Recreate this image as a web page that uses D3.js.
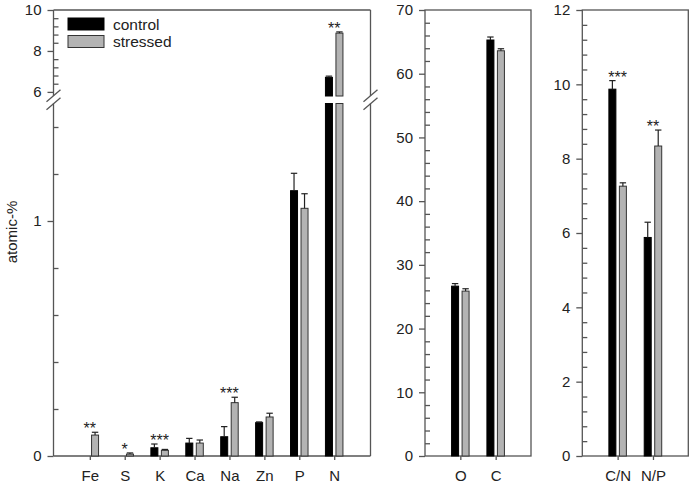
<!DOCTYPE html>
<html>
<head>
<meta charset="utf-8">
<script src="https://cdn.jsdelivr.net/npm/d3@7"></script>
<style>
  html, body { margin: 0; padding: 0; background: #fff; }
  svg { display: block; }
  text { font-family: "Liberation Sans", Arial, sans-serif; fill: #222; }
</style>
</head>
<body>
<svg id="chart" width="693" height="488"></svg>
<script>
// ---------------- data ----------------
const elements = ["Fe", "S", "K", "Ca", "Na", "Zn", "P", "N"];
const elemControl = [0, 0, 0.035, 0.055, 0.082, 0.142, 1.129, 6.71];
const elemControlErr = [0, 0, 0.016, 0.02, 0.043, 0.003, 0.074, 0.06];
const elemStressed = [0.089, 0.008, 0.024, 0.055, 0.227, 0.166, 1.054, 8.87];
const elemStressedErr = [0.012, 0.005, 0.004, 0.013, 0.023, 0.016, 0.062, 0.06];
const elemSig = ["**", "*", "***", "", "***", "", "", "**"];

const majors = ["O", "C"];
const majControl = [26.66, 65.29];
const majControlErr = [0.4, 0.47];
const majStressed = [25.88, 63.6];
const majStressedErr = [0.37, 0.32];
const majSig = ["", ""];

const ratios = ["C/N", "N/P"];
const ratControl = [9.87, 5.88];
const ratControlErr = [0.23, 0.41];
const ratStressed = [7.26, 8.34];
const ratStressedErr = [0.09, 0.43];
const ratSig = ["***", "**"];

const legendLabels = ["control", "stressed"];
const yLabel = "atomic-%";

// left panel broken axis ticks
const lowMajorTicks = [0, 1];
const lowMinorTicks = [0.2, 0.4, 0.6, 0.8, 1.2, 1.4];
const highMajorTicks = [6, 8, 10];
const highMinorTicks = [6.4, 6.8, 7.2, 7.6, 8.4, 8.8, 9.2, 9.6];
const midMajorTicks = [0, 10, 20, 30, 40, 50, 60, 70];
const midMinorTicks = d3.range(2, 70, 2).filter(v => v % 10 !== 0);
const rightMajorTicks = [0, 2, 4, 6, 8, 10, 12];
const rightMinorTicks = d3.range(1, 30).map(i => +(i * 0.4).toFixed(1)).filter(v => v < 12 && Math.abs(v / 2 - Math.round(v / 2)) > 1e-6);

// ---------------- styles ----------------
const LINE = "#555";
const BAR_C = "#000";
const BAR_S = "#b3b3b3";
const FONT = 15;
const TOP = 10, BOTTOM = 456;
const svg = d3.select("#chart");

function build(elemsNames, ctrl, ctrlErr, str, strErr, sig) {
  return elemsNames.map((n, i) => ({ name: n, c: ctrl[i], ce: ctrlErr[i], s: str[i], se: strErr[i], sig: sig[i] }));
}

function drawYAxis(g, x, scale, majorT, minorT) {
  const ax = g.append("g").attr("transform", `translate(${x},0)`)
    .call(d3.axisLeft(scale).tickValues(majorT).tickSize(6).tickPadding(6).tickFormat(d3.format("d")));
  ax.select(".domain").remove();
  ax.selectAll(".tick line").attr("stroke", LINE).attr("stroke-width", 1.3);
  ax.selectAll(".tick text").attr("font-size", FONT).attr("fill", "#222").style("font-family", '"Liberation Sans", Arial, sans-serif');
  const mi = g.append("g").attr("transform", `translate(${x},0)`)
    .call(d3.axisRight(scale).tickValues(minorT).tickSize(5).tickFormat(""));
  mi.select(".domain").remove();
  mi.selectAll(".tick line").attr("stroke", LINE).attr("stroke-width", 1.3);
}

function drawXAxis(g, xs) {
  const ax = g.append("g").attr("transform", `translate(0,${BOTTOM})`)
    .call(d3.axisBottom(xs).tickSize(4).tickSizeOuter(0).tickPadding(10));
  ax.select(".domain").remove();
  ax.selectAll(".tick line").attr("stroke", LINE).attr("stroke-width", 1.3);
  ax.selectAll(".tick text").attr("font-size", FONT).attr("fill", "#222").style("font-family", '"Liberation Sans", Arial, sans-serif');
}

function drawBars(g, data, xs, yfun, bottomFor) {
  const W = 7, G = 1.75;
  data.forEach(d => {
    const cx = xs(d.name);
    [["c", cx - G - W, BAR_C, d.c, d.ce], ["s", cx + G, BAR_S, d.s, d.se]].forEach(([k, x0, fill, v, e]) => {
      if (v <= 0) return;
      const segs = bottomFor(v);
      segs.forEach(([y0, y1]) => {
        g.append("rect").attr("x", x0).attr("y", y1).attr("width", W).attr("height", Math.max(0, y0 - y1))
          .attr("fill", fill).attr("stroke", k === "s" ? "#333" : "#000").attr("stroke-width", 1);
      });
      if (e > 0) {
        const yt = yfun(v), ye = yfun(v + e);
        const mx = x0 + W / 2;
        g.append("line").attr("x1", mx).attr("x2", mx).attr("y1", yt).attr("y2", ye).attr("stroke", "#222").attr("stroke-width", 1.2);
        g.append("line").attr("x1", mx - 3.2).attr("x2", mx + 3.2).attr("y1", ye).attr("y2", ye).attr("stroke", "#222").attr("stroke-width", 1.2);
      }
    });
    if (d.sig) {
      const top = Math.max(d.c + d.ce, d.s + d.se);
      g.append("text").attr("x", cx).attr("y", yfun(top) + 2).attr("text-anchor", "middle")
        .attr("font-size", 16).text(d.sig);
    }
  });
}

// ---------------- left panel (broken axis) ----------------
const L = { x0: 53.5, x1: 370.5 };
const yLow = d3.scaleLinear().domain([0, 1.5]).range([BOTTOM, 103.5]);
const yHigh = d3.scaleLinear().domain([5.8, 10]).range([96, TOP]);
const yL = v => (v <= 1.5 ? yLow(v) : yHigh(v));
const xL = d3.scalePoint().domain(elements).range([L.x0, L.x1]).padding(1.04);
const gL = svg.append("g");

// frame with breaks
[L.x0, L.x1].forEach(x => {
  gL.append("line").attr("x1", x).attr("x2", x).attr("y1", TOP).attr("y2", yHigh(5.8)).attr("stroke", LINE).attr("stroke-width", 1.3);
  gL.append("line").attr("x1", x).attr("x2", x).attr("y1", yLow(1.5)).attr("y2", BOTTOM).attr("stroke", LINE).attr("stroke-width", 1.3);
});
gL.append("line").attr("x1", L.x0).attr("x2", L.x1).attr("y1", TOP).attr("y2", TOP).attr("stroke", LINE).attr("stroke-width", 1.3);
gL.append("line").attr("x1", L.x0).attr("x2", L.x1).attr("y1", BOTTOM).attr("y2", BOTTOM).attr("stroke", LINE).attr("stroke-width", 1.3);

drawYAxis(gL, L.x0, yLow, lowMajorTicks, lowMinorTicks);
drawYAxis(gL, L.x0, yHigh, highMajorTicks, highMinorTicks);
drawXAxis(gL, xL);

const dataL = build(elements, elemControl, elemControlErr, elemStressed, elemStressedErr, elemSig);
drawBars(gL, dataL, xL, yL, v => {
  if (v <= 1.5) return [[yLow(0), yLow(v)]];
  return [[yLow(0), yLow(1.5)], [yHigh(5.8), yHigh(v)]];
});

// break marks
const breakY = (yHigh(5.8) + yLow(1.5)) / 2;
[L.x0, L.x1].forEach(x => {
  [-4, 4].forEach(off => {
    gL.append("line").attr("x1", x - 7).attr("x2", x + 7).attr("y1", breakY + off + 6).attr("y2", breakY + off - 6)
      .attr("stroke", LINE).attr("stroke-width", 1.3);
  });
});

// legend
const legend = gL.append("g");
[[BAR_C, "#000"], [BAR_S, "#333"]].forEach(([fill, st], i) => {
  legend.append("rect").attr("x", 68).attr("y", 18 + i * 17.5).attr("width", 36).attr("height", 12)
    .attr("fill", fill).attr("stroke", st).attr("stroke-width", 1);
  legend.append("text").attr("x", 113).attr("y", 29.5 + i * 17.5).attr("font-size", 15.5).text(legendLabels[i]);
});

// y label
svg.append("text").attr("transform", "translate(17,232) rotate(-90)").attr("text-anchor", "middle")
  .attr("font-size", 15).text(yLabel);

// ---------------- generic simple panel ----------------
function simplePanel(x0, x1, cats, domainMax, majorT, minorT, data) {
  const g = svg.append("g");
  const y = d3.scaleLinear().domain([0, domainMax]).range([BOTTOM, TOP]);
  const x = d3.scalePoint().domain(cats).range([x0, x1]).padding(1);
  g.append("rect").attr("x", x0).attr("y", TOP).attr("width", x1 - x0).attr("height", BOTTOM - TOP)
    .attr("fill", "none").attr("stroke", LINE).attr("stroke-width", 1.3);
  drawYAxis(g, x0, y, majorT, minorT);
  drawXAxis(g, x);
  drawBars(g, data, x, y, v => [[y(0), y(v)]]);
}

simplePanel(425, 531, majors, 70, midMajorTicks, midMinorTicks,
  build(majors, majControl, majControlErr, majStressed, majStressedErr, majSig));
simplePanel(582.3, 688.3, ratios, 12, rightMajorTicks, rightMinorTicks,
  build(ratios, ratControl, ratControlErr, ratStressed, ratStressedErr, ratSig));
</script>
</body>
</html>
